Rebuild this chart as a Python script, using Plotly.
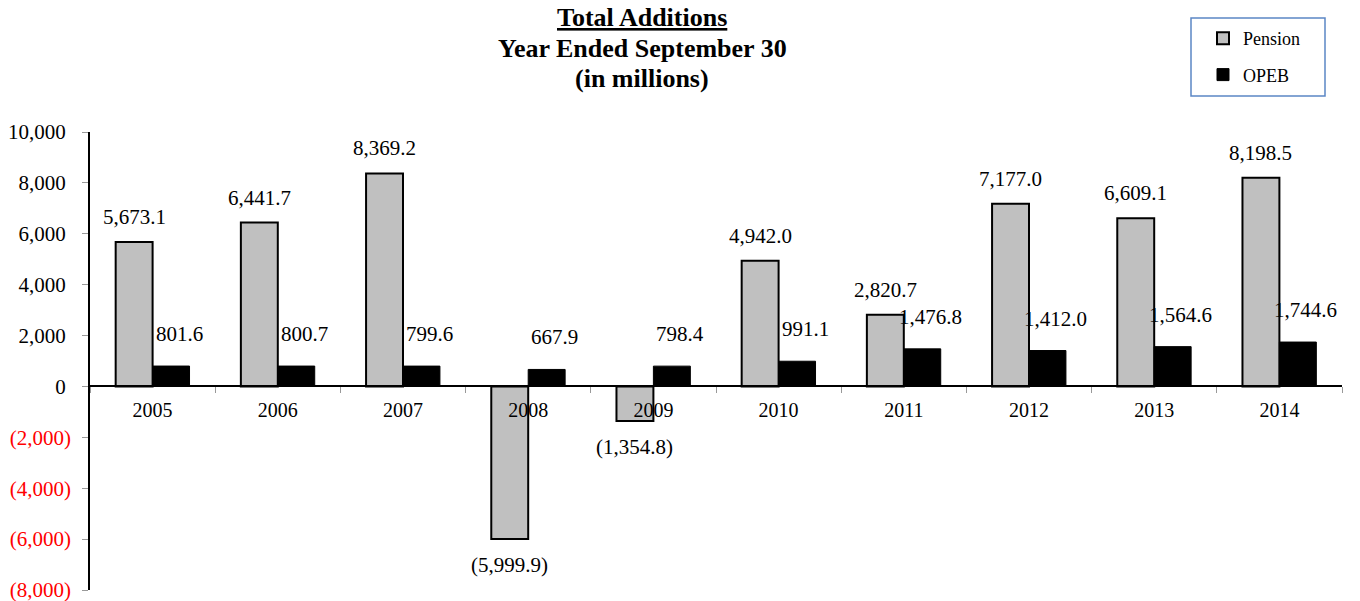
import plotly.graph_objects as go

years = ["2005", "2006", "2007", "2008", "2009", "2010", "2011", "2012", "2013", "2014"]
pension = [5673.1, 6441.7, 8369.2, -5999.9, -1354.8, 4942.0, 2820.7, 7177.0, 6609.1, 8198.5]
opeb = [801.6, 800.7, 799.6, 667.9, 798.4, 991.1, 1476.8, 1412.0, 1564.6, 1744.6]
y_ticks = [10000, 8000, 6000, 4000, 2000, 0, -2000, -4000, -6000, -8000]
title_lines = ["<b><u>Total Additions</u></b>", "<b>Year Ended September 30</b>", "<b>(in millions)</b>"]

FONT = "Liberation Serif, Times New Roman, serif"

# page body has an 8px margin, so the figure is drawn 8px in from the window corner
W, H = 1352, 593
L, T, R, B = 82, 124, 18, 11
PW, PH = W - L - R, H - T - B


def px(xw):
    # window x pixel -> paper fraction
    return (xw - 8 - L) / PW


def py(yw):
    # window y pixel -> paper fraction
    return (H - B - (yw - 8)) / PH


def fmt_value(v):
    s = f"{abs(v):,.1f}"
    return f"({s})" if v < 0 else s


def fmt_tick(v):
    # like the excel format #,##0_);(#,##0) : positives padded where ")" would be
    if v < 0:
        return f"<span style='color:#ff0000'>({abs(v):,})</span>"
    return f"{v:,}\u00a0"


fig = go.Figure()

fig.add_trace(
    go.Bar(
        x=years,
        y=pension,
        name="Pension",
        legendgroup="p",
        marker=dict(color="#c0c0c0", line=dict(color="#000000", width=2)),
    )
)
fig.add_trace(
    go.Bar(
        x=years,
        y=opeb,
        name="OPEB",
        legendgroup="o",
        marker=dict(color="#000000", line=dict(color="#000000", width=1)),
    )
)

# data labels, set a little off the bar ends like the original
# (category axis -> annotation x given as category index)
bar_half = 18.5
for i, v in enumerate(pension):
    fig.add_annotation(
        x=i, y=v, xref="x", yref="y", text=fmt_value(v), showarrow=False,
        xshift=-bar_half, yshift=25 if v >= 0 else -26,
        font=dict(family=FONT, size=21, color="#000000"),
    )
for i, v in enumerate(opeb):
    fig.add_annotation(
        x=i, y=v, xref="x", yref="y", text=fmt_value(v), showarrow=False,
        xshift=bar_half + 8, yshift=32,
        font=dict(family=FONT, size=21, color="#000000"),
    )

# title, one annotation per line
for k, line in enumerate(title_lines):
    fig.add_annotation(
        x=px(642), y=py(18 + 30 * k), xref="paper", yref="paper",
        text=line, showarrow=False, xanchor="center", yanchor="middle",
        font=dict(family=FONT, size=26, color="#000000"),
    )

# legend frame
fig.add_shape(
    type="rect", xref="paper", yref="paper",
    x0=px(1191), x1=px(1325), y0=py(96), y1=py(18),
    line=dict(color="#5b86c5", width=1.5), fillcolor="rgba(0,0,0,0)",
)

fig.update_layout(
    width=W,
    height=H,
    paper_bgcolor="white",
    plot_bgcolor="white",
    barmode="group",
    bargap=0.41,
    bargroupgap=0,
    margin=dict(l=L, r=R, t=T, b=B, autoexpand=False),
    font=dict(family=FONT, size=21, color="#000000"),
    legend=dict(
        x=px(1203),
        y=py(20),
        xanchor="left",
        yanchor="top",
        bgcolor="rgba(0,0,0,0)",
        borderwidth=0,
        tracegroupgap=10,
        itemwidth=30,
        font=dict(family=FONT, size=18, color="#000000"),
    ),
    showlegend=True,
)

fig.update_xaxes(
    type="category",
    range=[-0.5, len(years) - 0.5],
    anchor="free",
    position=8000 / 18000,
    automargin=False,
    showline=True,
    linecolor="#000000",
    linewidth=1.5,
    ticks="outside",
    tickson="boundaries",
    ticklen=6,
    tickcolor="#999999",
    ticklabelstandoff=6,
    showgrid=False,
    zeroline=False,
    tickangle=0,
    tickfont=dict(family=FONT, size=20, color="#000000"),
)
fig.update_yaxes(
    range=[-8000, 10000],
    tickvals=y_ticks,
    ticktext=[fmt_tick(v) for v in y_ticks],
    automargin=False,
    ticklabeloverflow="allow",
    showline=True,
    linecolor="#000000",
    linewidth=1.5,
    ticks="outside",
    ticklen=6,
    tickcolor="#999999",
    ticklabelstandoff=7,
    showgrid=False,
    zeroline=False,
    tickfont=dict(family=FONT, size=21, color="#000000"),
)

fig.write_html("out.html")
